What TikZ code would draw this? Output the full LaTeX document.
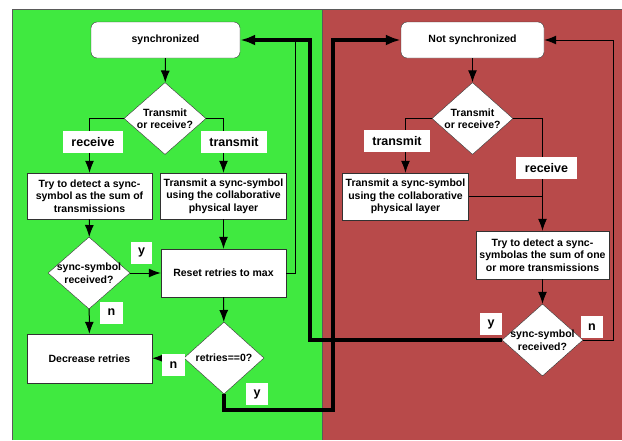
\documentclass[tikz,border=0pt]{standalone}
\usepackage{fontspec}
\setmainfont{Liberation Sans}
\usetikzlibrary{arrows.meta,positioning,shapes.geometric}
\definecolor{syncgreen}{RGB}{64,233,64}
\definecolor{nosyncred}{RGB}{184,74,74}
\definecolor{framegray}{RGB}{90,90,90}
\definecolor{boxgray}{RGB}{50,50,50}
\begin{document}
\begin{tikzpicture}[x=1pt,y=-1pt,
        >={Latex[length=12pt,width=9pt]},
        txt/.style={font=\bfseries\fontsize{10.5}{12.5}\selectfont,align=center},
        state/.style={txt,draw=boxgray,fill=white,rounded corners=6pt,minimum width=#1,minimum height=36pt},
        action/.style={txt,draw=boxgray,fill=white,minimum width=125pt,minimum height=#1},
        decision/.style={diamond,draw=boxgray,fill=white,inner sep=0pt,minimum width=82pt,minimum height=72pt,
            label={[txt]center:#1}},
        branch/.style={fill=white,inner sep=0pt,font=\bfseries\fontsize{12.5}{14}\selectfont,minimum height=22pt,minimum width=#1},
        flow/.style={->,line width=1pt},
        jump/.style={-{Latex[length=15pt,width=11pt]},line width=3.5pt}]
        \useasboundingbox (0,0) rectangle (622,440);
        % draw background
        \fill[white] (0,0) rectangle (622,440);
        \fill[syncgreen] (12,9) rectangle (322,440);
        \fill[nosyncred] (322,9) rectangle (622,440);
        \draw[framegray] (12,440) -- (12,9) -- (622,9);
        \draw[framegray] (322,9) -- (322,440);
        % draw nodes, synchronized side
        \node[state=149pt] (sync) at (165.5,40) {synchronized};
        \node[decision={Transmit\\or receive?}] (trA) at (165,118.5) {};
        \node[action=46pt] (detA) at (89.5,196) {Try to detect a sync-\\symbol as the sum of\\transmissions};
        \node[action=46pt] (sendA) at (223.5,196) {Transmit a sync-symbol\\using the collaborative\\physical layer};
        \node[decision={sync-symbol\\received?}] (rxA) at (89,273) {};
        \node[action=48pt] (reset) at (223.5,273) {Reset retries to max};
        \node[action=49pt] (dec) at (89.5,358.5) {Decrease retries};
        \node[decision={retries==0?},minimum width=80pt] (zero) at (224,358) {};
        % draw nodes, not synchronized side
        \node[state=143pt] (nosync) at (472.5,40) {Not synchronized};
        \node[decision={Transmit\\or receive?},minimum width=81pt] (trB) at (472.5,118.5) {};
        \node[action=47pt] (sendB) at (405.5,196.5) {Transmit a sync-symbol\\using the collaborative\\physical layer};
        \node[action=48pt] (detB) at (542.5,255) {Try to detect a sync-\\symbolas the sum of one\\or more transmissions};
        \node[decision={sync-symbol\\received?},minimum width=81pt] (rxB) at (542.5,340) {};
        % turning points
        \coordinate (upA) at (295,40);
        \coordinate (backA) at (310,40);
        \coordinate (lowA) at (333,410);
        \coordinate (upB) at (613,40);
        % draw connectors
        \draw[flow] (sync) -- (trA);
        \draw[flow] (trA.west) -| (detA.north);
        \draw[flow] (trA.east) -| (sendA.north);
        \draw[flow] (detA) -- (rxA);
        \draw[flow] (sendA) -- (reset);
        \draw[flow] (rxA) -- (reset);
        \draw[flow] (rxA) -- (dec);
        \draw[flow] (reset) -- (zero);
        \draw[flow] (zero) -- (dec);
        \draw[line width=1pt] (reset.east) -| (upA);
        \draw[flow] (nosync) -- (trB);
        \draw[flow] (trB.west) -| (sendB.north);
        \draw[flow] (trB.east) -| (detB.north);
        \draw[line width=1pt] (sendB.east) -- (sendB.east -| detB.north);
        \draw[flow] (detB) -- (rxB);
        \draw[flow] (rxB.east) -| (upB) -- (nosync.east);
        \draw[jump] (zero.south) |- (lowA) |- (nosync.west);
        \draw[jump] (rxB.west) -| (backA) -- (sync.east);
        % draw branch labels
        \node[branch=60pt] (recA) at (93,142) {receive};
        \node[branch=66pt] (senA) at (234,142) {transmit};
        \node[branch=21pt] (yesA) at (141.5,252.5) {y};
        \node[branch=23pt] (noA) at (111.5,312.5) {n};
        \node[branch=23pt] (noZ) at (173.5,365) {n};
        \node[branch=22pt] (yesZ) at (257,394) {y};
        \node[branch=66pt] (senB) at (397,141) {transmit};
        \node[branch=61pt] (recB) at (546.5,168) {receive};
        \node[branch=22pt] (yesB) at (491,324) {y};
        \node[branch=22pt] (noB) at (592,327) {n};
\end{tikzpicture}
\end{document}
